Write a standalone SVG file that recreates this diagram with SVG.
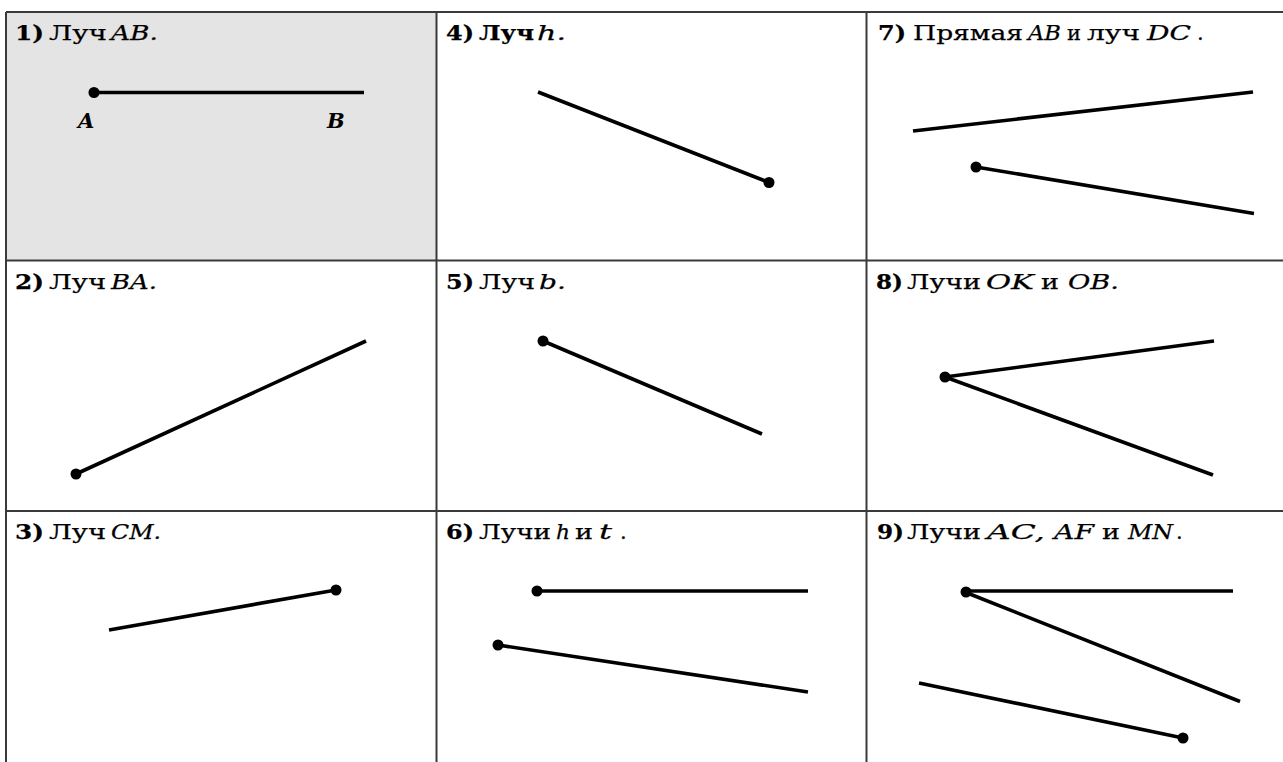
<svg xmlns="http://www.w3.org/2000/svg" width="1283" height="762" viewBox="0 0 1283 762">
<style>
.grid{stroke:#3a3a3a;stroke-width:2;fill:none}
.ray{stroke:#000;stroke-width:3.6;fill:none;stroke-linecap:butt}
.dot{fill:#000}
.t{font-family:"DejaVu Serif","Liberation Serif",serif;font-size:21px;fill:#000;stroke:#000;stroke-width:0.25}
.n{font-weight:bold}
.i{font-style:italic}
.pt{font-family:"DejaVu Serif","Liberation Serif",serif;font-size:21px;font-weight:bold;font-style:italic;fill:#000}
</style>
<rect x="0" y="0" width="1283" height="762" fill="#fff"/>
<rect x="7" y="13" width="429" height="247" fill="#e4e4e4"/>
<g id="grid">
<line class="grid" x1="6" y1="12" x2="1283" y2="12"/>
<line class="grid" x1="6" y1="12" x2="6" y2="762"/>
<line class="grid" x1="436.5" y1="12" x2="436.5" y2="762"/>
<line class="grid" x1="866.5" y1="12" x2="866.5" y2="762"/>
<line class="grid" x1="6" y1="260.5" x2="1283" y2="260.5"/>
<line class="grid" x1="6" y1="511" x2="1283" y2="511"/>
</g>
<g id="cell1">
<text class="t" y="40"><tspan class="n" x="15" textLength="29" lengthAdjust="spacingAndGlyphs">1)</tspan><tspan x="49" textLength="58" lengthAdjust="spacingAndGlyphs">Луч</tspan><tspan class="i" x="111" textLength="47" lengthAdjust="spacingAndGlyphs">AB.</tspan></text>
<line class="ray" x1="94" y1="92.5" x2="364" y2="92.5"/>
<circle class="dot" cx="94" cy="92.5" r="5.5"/>
<text class="pt" x="78" y="128">A</text>
<text class="pt" x="327" y="128">B</text>
</g>
<g id="cell2">
<text class="t" y="289"><tspan class="n" x="15" textLength="29" lengthAdjust="spacingAndGlyphs">2)</tspan><tspan x="49" textLength="57" lengthAdjust="spacingAndGlyphs">Луч</tspan><tspan class="i" x="111" textLength="46" lengthAdjust="spacingAndGlyphs">BA.</tspan></text>
<line class="ray" x1="76" y1="474" x2="366" y2="341"/>
<circle class="dot" cx="76" cy="474" r="5.5"/>
</g>
<g id="cell3">
<text class="t" y="539"><tspan class="n" x="15" textLength="29" lengthAdjust="spacingAndGlyphs">3)</tspan><tspan x="49" textLength="57" lengthAdjust="spacingAndGlyphs">Луч</tspan><tspan class="i" x="111" textLength="50" lengthAdjust="spacingAndGlyphs">CM.</tspan></text>
<line class="ray" x1="109" y1="630" x2="336" y2="590"/>
<circle class="dot" cx="336" cy="590" r="5.5"/>
</g>
<g id="cell4">
<text class="t" y="40"><tspan class="n" x="446" textLength="28" lengthAdjust="spacingAndGlyphs">4)</tspan><tspan class="n" x="479" textLength="55" lengthAdjust="spacingAndGlyphs">Луч</tspan><tspan class="i" x="537" textLength="29" lengthAdjust="spacingAndGlyphs">h.</tspan></text>
<line class="ray" x1="538" y1="92" x2="769" y2="182.5"/>
<circle class="dot" cx="769" cy="182.5" r="5.5"/>
</g>
<g id="cell5">
<text class="t" y="289"><tspan class="n" x="446" textLength="28" lengthAdjust="spacingAndGlyphs">5)</tspan><tspan x="479" textLength="56" lengthAdjust="spacingAndGlyphs">Луч</tspan><tspan class="i" x="539" textLength="27" lengthAdjust="spacingAndGlyphs">b.</tspan></text>
<line class="ray" x1="543" y1="341" x2="762" y2="434"/>
<circle class="dot" cx="543" cy="341" r="5.5"/>
</g>
<g id="cell6">
<text class="t" y="539"><tspan class="n" x="446" textLength="28" lengthAdjust="spacingAndGlyphs">6)</tspan><tspan x="479" textLength="72" lengthAdjust="spacingAndGlyphs">Лучи</tspan><tspan class="i" x="556" textLength="14" lengthAdjust="spacingAndGlyphs">h</tspan><tspan x="575" textLength="18" lengthAdjust="spacingAndGlyphs">и</tspan><tspan class="i" x="599" textLength="13" lengthAdjust="spacingAndGlyphs">t</tspan><tspan x="620">.</tspan></text>
<line class="ray" x1="537" y1="591" x2="808" y2="591"/>
<circle class="dot" cx="537" cy="591" r="5.5"/>
<line class="ray" x1="498" y1="645" x2="808" y2="692"/>
<circle class="dot" cx="498" cy="645" r="5.5"/>
</g>
<g id="cell7">
<text class="t" y="40"><tspan class="n" x="878" textLength="28" lengthAdjust="spacingAndGlyphs">7)</tspan><tspan x="913" textLength="110" lengthAdjust="spacingAndGlyphs">Прямая</tspan><tspan class="i" x="1028" textLength="33" lengthAdjust="spacingAndGlyphs">AB</tspan><tspan x="1067" textLength="14" lengthAdjust="spacingAndGlyphs">и</tspan><tspan x="1087" textLength="53" lengthAdjust="spacingAndGlyphs">луч</tspan><tspan class="i" x="1147" textLength="44" lengthAdjust="spacingAndGlyphs">DC</tspan><tspan x="1197">.</tspan></text>
<line class="ray" x1="913" y1="131" x2="1253" y2="92"/>
<line class="ray" x1="976" y1="167" x2="1254" y2="213.5"/>
<circle class="dot" cx="976" cy="167" r="5.5"/>
</g>
<g id="cell8">
<text class="t" y="289"><tspan class="n" x="876" textLength="27" lengthAdjust="spacingAndGlyphs">8)</tspan><tspan x="907" textLength="74" lengthAdjust="spacingAndGlyphs">Лучи</tspan><tspan class="i" x="986" textLength="48" lengthAdjust="spacingAndGlyphs">OK</tspan><tspan x="1041" textLength="18" lengthAdjust="spacingAndGlyphs">и</tspan><tspan class="i" x="1068" textLength="51" lengthAdjust="spacingAndGlyphs">OB.</tspan></text>
<line class="ray" x1="945" y1="377" x2="1214" y2="341"/>
<line class="ray" x1="945" y1="377" x2="1213" y2="475"/>
<circle class="dot" cx="945" cy="377" r="5.5"/>
</g>
<g id="cell9">
<text class="t" y="539"><tspan class="n" x="877" textLength="27" lengthAdjust="spacingAndGlyphs">9)</tspan><tspan x="907" textLength="74" lengthAdjust="spacingAndGlyphs">Лучи</tspan><tspan class="i" x="987" textLength="58" lengthAdjust="spacingAndGlyphs">AC,</tspan><tspan class="i" x="1054" textLength="40" lengthAdjust="spacingAndGlyphs">AF</tspan><tspan x="1102" textLength="18" lengthAdjust="spacingAndGlyphs">и</tspan><tspan class="i" x="1128" textLength="45" lengthAdjust="spacingAndGlyphs">MN</tspan><tspan x="1176">.</tspan></text>
<line class="ray" x1="966" y1="591" x2="1233" y2="591"/>
<line class="ray" x1="966" y1="592.5" x2="1240" y2="701.5"/>
<circle class="dot" cx="966" cy="592" r="5.5"/>
<line class="ray" x1="919" y1="683" x2="1183" y2="738"/>
<circle class="dot" cx="1183" cy="738" r="5.5"/>
</g>
</svg>
